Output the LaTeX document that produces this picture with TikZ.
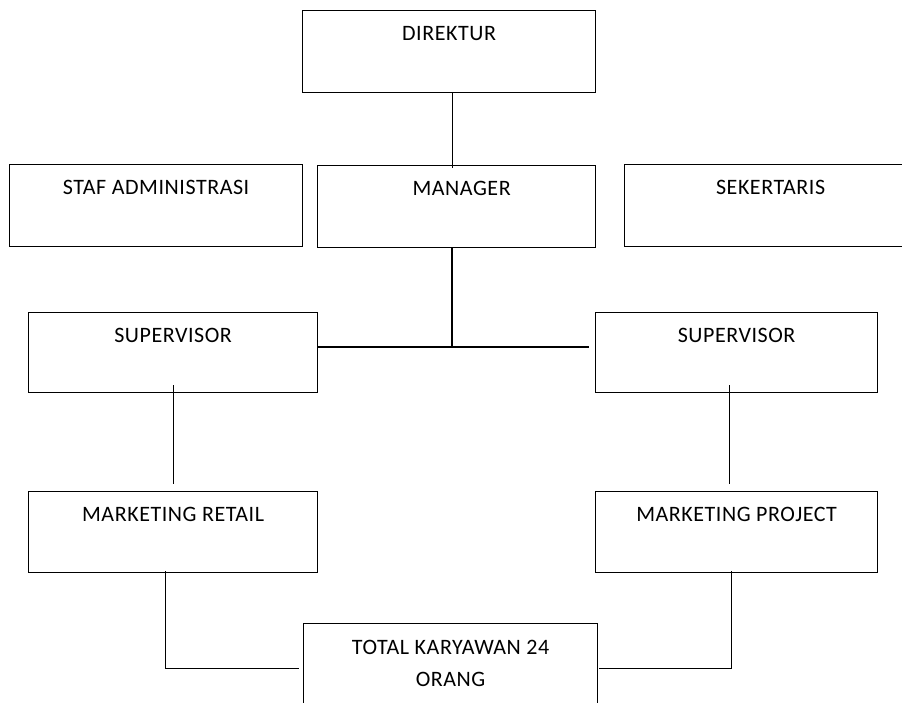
\documentclass[tikz,border=0pt]{standalone}
\usepackage{fontspec}
\setmainfont[LetterSpace=2.5]{Carlito}
\usetikzlibrary{positioning,calc}

\begin{document}
\begin{tikzpicture}[x=1pt,y=-1pt,
   bx/.style={draw,line width=1.2pt,inner sep=0pt,anchor=north west,
              font=\fontsize{22}{32}\selectfont,align=center,
              text height=30pt,text depth=52pt},
   ln/.style={line width=1.2pt}]
  \useasboundingbox (0,0) rectangle (902,702);
  % top level
  \node[bx,minimum width=293pt] (dir) at (302,10) {DIREKTUR};
  \node[bx,minimum width=293pt] (staf) at (9,164) {STAF ADMINISTRASI};
  \node[bx,minimum width=278pt] (mgr) at (317,165) {\hspace*{10pt}MANAGER};
  \node[bx,minimum width=292pt] (sek) at (624,164) {SEKERTARIS};
  % supervisors and marketing
  \node[bx,minimum width=289pt,text depth=50pt] (supL) at (28,312) {SUPERVISOR};
  \node[bx,minimum width=282pt,text depth=50pt] (supR) at (595,312) {SUPERVISOR};
  \node[bx,minimum width=289pt,text depth=51pt] (mrL) at (28,491) {MARKETING RETAIL};
  \node[bx,minimum width=282pt,text depth=51pt] (mrP) at (595,491) {MARKETING PROJECT};
  \node[bx,minimum width=294pt,text height=63pt,text depth=27pt] (total) at (303,623) {TOTAL KARYAWAN 24\\ORANG};
  \coordinate (j) at (452,347);
  \draw[ln] ([xshift=3.5pt]dir.south) -- ([xshift=3.5pt,yshift=-3pt]dir.south |- mgr.north);
  \draw[ln] (mgr.south -| j) -- (j);
  \draw[ln] (j) -- (j -| supL.east);
  \draw[ln] (j) -- ([xshift=-6pt]j -| supR.west);
  \draw[ln] ([yshift=8pt]supL.south) -- ([yshift=7pt]mrL.north);
  \draw[ln] ([xshift=-7pt,yshift=8pt]supR.south) -- ([xshift=-7pt,yshift=7pt]mrP.north);
  \draw[ln] ([xshift=-7.5pt,yshift=2pt]mrL.south) |- ([xshift=-4pt]total.west);
  \draw[ln] ([xshift=-5pt,yshift=2pt]mrP.south) |- ([xshift=1pt]total.east);
\end{tikzpicture}
\end{document}
